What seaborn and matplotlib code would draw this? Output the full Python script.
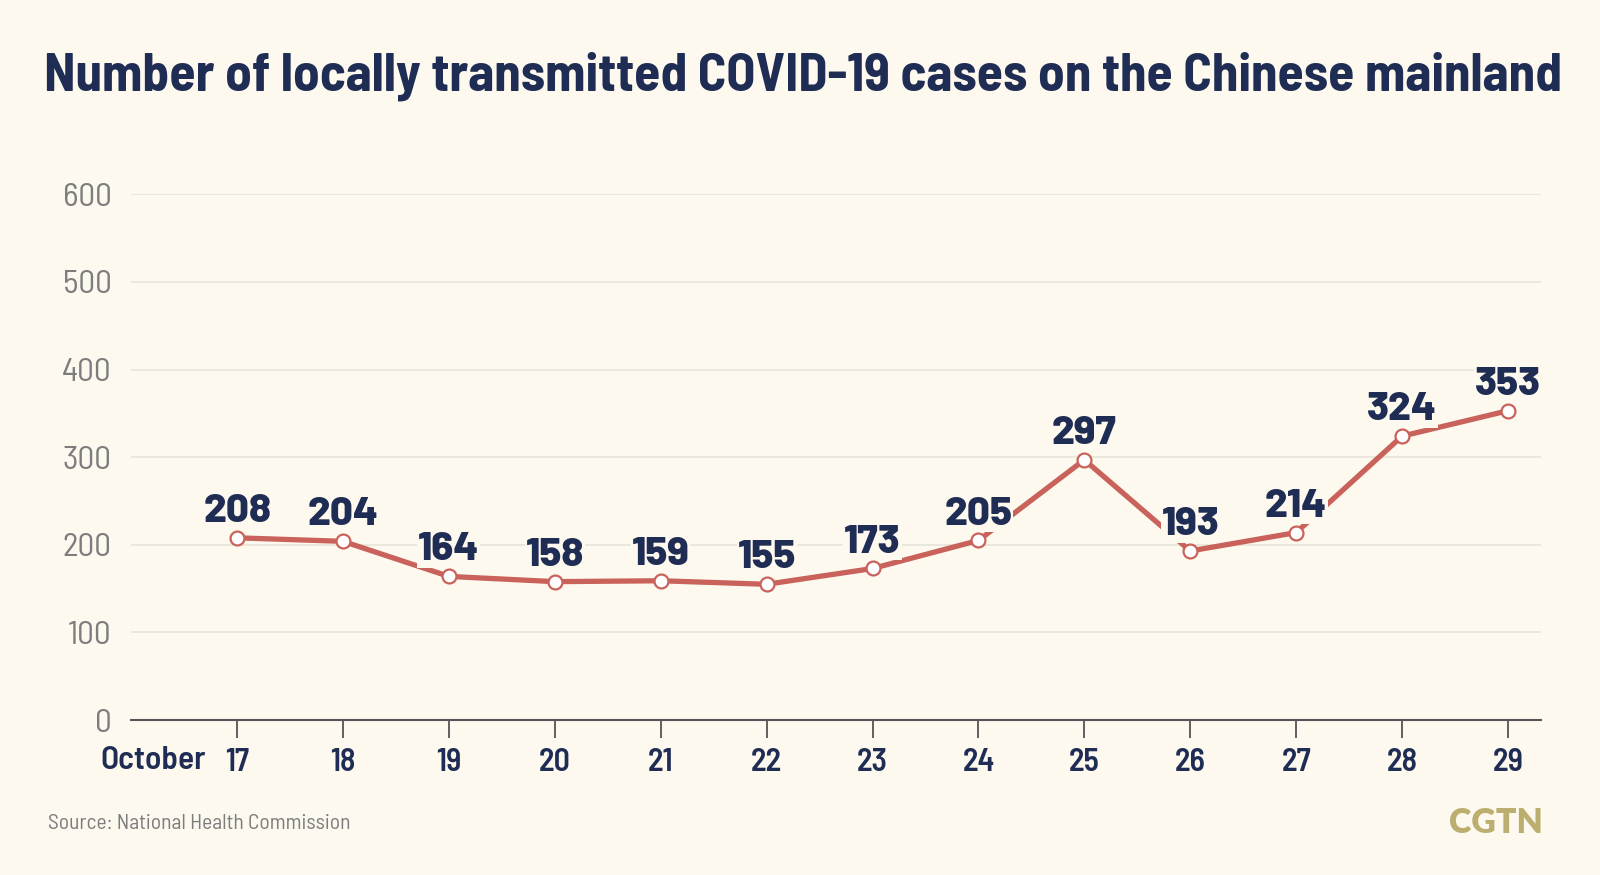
import matplotlib
matplotlib.use("Agg")
import matplotlib.pyplot as plt
import seaborn as sns
import pandas as pd

# ---- data ----
days = [17, 18, 19, 20, 21, 22, 23, 24, 25, 26, 27, 28, 29]
cases = [208, 204, 164, 158, 159, 155, 173, 205, 297, 193, 214, 324, 353]
day_labels = [str(d) for d in days]
month_label = "October"
y_ticks = [0, 100, 200, 300, 400, 500, 600]
title = "Number of locally transmitted COVID-19 cases on the Chinese mainland"
source = "Source: National Health Commission"
brand = "CGTN"

BG = "#FDF9EF"
NAVY = "#1F2D55"
RED = "#C8625A"
GREY = "#7D7D7D"
GRID = "#E9E6DC"
GOLD = "#BBAE6E"

COND = ["Barlow Semi Condensed", "Roboto Condensed", "IBM Plex Sans Condensed", "DejaVu Sans"]
HEAVY = ["Barlow", "Lato", "DejaVu Sans"]
LOGO = ["Lato", "DejaVu Sans"]

sns.set_theme(style="white")
plt.rcParams["font.family"] = COND

df = pd.DataFrame({"day": days, "cases": cases})

fig = plt.figure(figsize=(16, 8.75), dpi=100, facecolor=BG)
ax = fig.add_axes([0.082, 0.177, 0.881, 0.601])
ax.set_facecolor(BG)

sns.lineplot(data=df, x="day", y="cases", ax=ax, color=RED, linewidth=3.8,
             marker="o", markersize=10, markerfacecolor="white",
             markeredgecolor=RED, markeredgewidth=1.6, zorder=3)

ax.set_xlim(16.0, 29.31)
ax.set_ylim(0, 600)
ax.set_yticks(y_ticks)
ax.set_yticklabels([str(t) for t in y_ticks], color=GREY, fontsize=24)
ax.set_xticks(days)
ax.set_xticklabels(day_labels, color=NAVY, fontsize=23, fontweight="semibold")
ax.tick_params(axis="y", length=0, pad=14)
ax.tick_params(axis="x", length=13, width=1.3, color="#555555", pad=7, direction="out")
ax.xaxis.set_ticks_position("bottom")
ax.set_xlabel("")
ax.set_ylabel("")

for y in y_ticks[1:]:
    ax.axhline(y, color=GRID, linewidth=1.3, zorder=0)

for s in ["top", "right", "left"]:
    ax.spines[s].set_visible(False)
ax.spines["bottom"].set_color("#555555")
ax.spines["bottom"].set_linewidth(1.5)

for d, v in zip(days, cases):
    ax.annotate(str(v), (d, v), xytext=(0, 19), textcoords="offset points",
                ha="center", va="center", fontsize=29, fontweight=800,
                color=NAVY, family=HEAVY, zorder=4,
                bbox=dict(boxstyle="square,pad=0.02", fc=BG, ec="none"))

fig.text(0.0625, 0.131, month_label, ha="left", va="center", fontsize=24,
         fontweight="semibold", color=NAVY)

t = fig.text(0.502, 0.913, title, ha="center", va="center", fontsize=36,
             fontweight="bold", color=NAVY)
fig.canvas.draw()
w = t.get_window_extent().width
t.set_fontsize(36 * 1517.0 / w)

fig.text(0.030, 0.059, source, ha="left", va="center", fontsize=15.5, color=GREY)
fig.text(0.964, 0.059, brand, ha="right", va="center", fontsize=24.5,
         fontweight="heavy", color=GOLD, family=LOGO)

fig.savefig("out.png", dpi=100, facecolor=BG)
